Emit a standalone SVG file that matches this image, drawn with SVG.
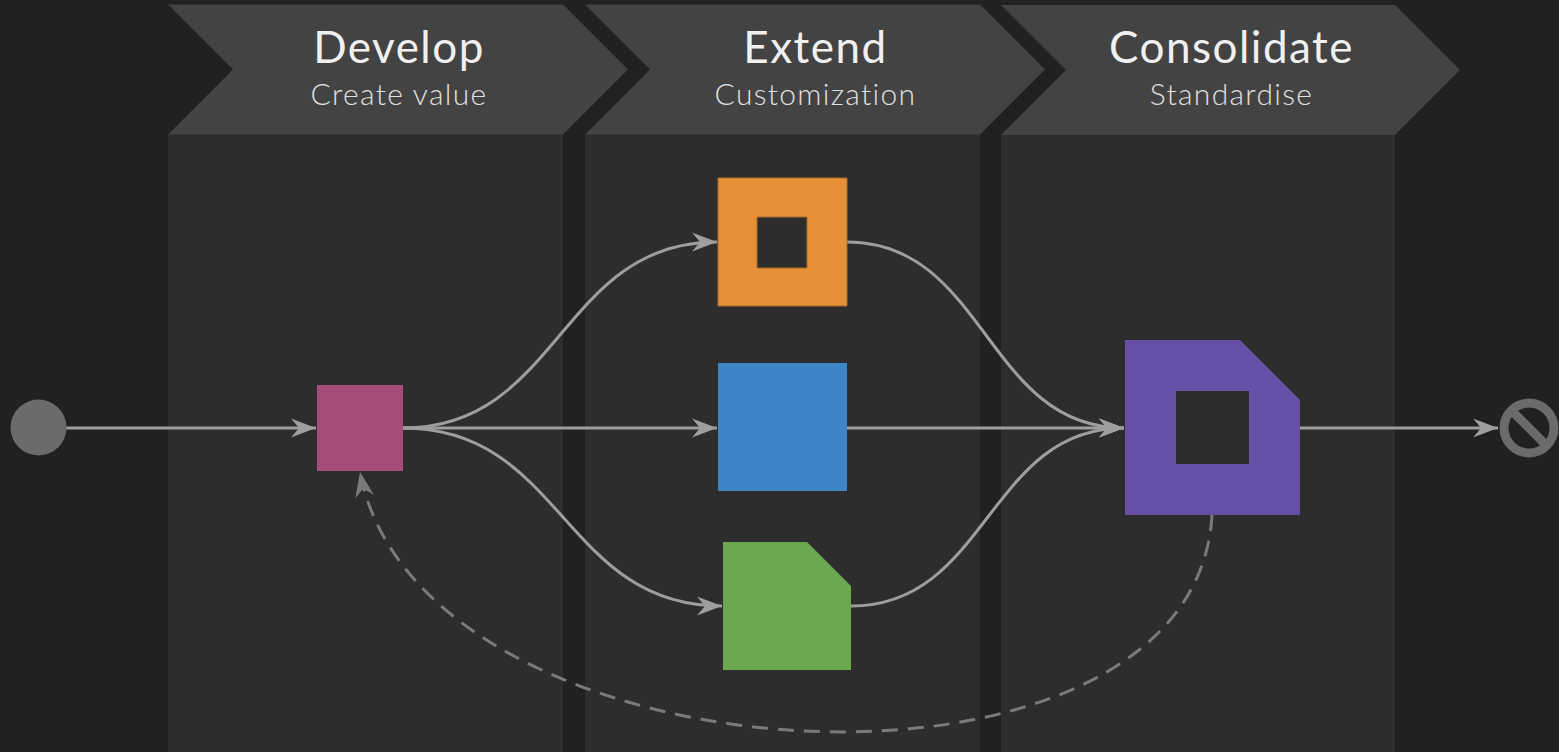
<svg xmlns="http://www.w3.org/2000/svg" width="1559" height="752" viewBox="0 0 1559 752">
<defs>
<style>
.body{fill:#2d2d2d}
.head{fill:#434343}
.title{font-family:Lato,"Open Sans","Liberation Sans",sans-serif;font-size:44px;letter-spacing:1.5px;fill:#f0f0f0;text-anchor:middle}
.sub{font-family:Lato,"Open Sans","Liberation Sans",sans-serif;font-size:30px;font-weight:300;letter-spacing:1.3px;fill:#e0e0e0;text-anchor:middle}
.conn{fill:none;stroke:#9e9e9e;stroke-width:3}
.dash{fill:none;stroke:#7a7a7a;stroke-width:3;stroke-dasharray:16 10}
</style>
<marker id="arr" viewBox="-26 -10 28 20" refX="0" refY="0" markerWidth="28" markerHeight="20" markerUnits="userSpaceOnUse" orient="auto">
<path d="M0,0 L-25,-9.5 L-17,0 L-25,9.5 Z" fill="#9e9e9e"/>
</marker>
<marker id="arrD" viewBox="-26 -10 28 20" refX="0" refY="0" markerWidth="28" markerHeight="20" markerUnits="userSpaceOnUse" orient="auto">
<path d="M0,0 L-25,-9.5 L-17,0 L-25,9.5 Z" fill="#7a7a7a"/>
</marker>
</defs>
<rect width="1559" height="752" fill="#212121"/>

<g id="lane-develop">
<rect class="body" x="168" y="134" width="395" height="618"/>
<polygon class="head" points="168,4.5 563,4.5 628,69.5 563,134.5 168,134.5 233,69.5"/>
<text class="title" x="399" y="63">Develop</text>
<text class="sub" x="399" y="105">Create value</text>
</g>
<g id="lane-extend">
<rect class="body" x="585" y="134" width="395" height="618"/>
<polygon class="head" points="585,4.5 980,4.5 1045,69.5 980,134.5 585,134.5 650,69.5"/>
<text class="title" x="815.5" y="63">Extend</text>
<text class="sub" x="815.5" y="105">Customization</text>
</g>
<g id="lane-consolidate">
<rect class="body" x="1001" y="135" width="394" height="617"/>
<polygon class="head" points="1001,5 1395,5 1460,70 1395,135 1001,135 1066,70"/>
<text class="title" x="1231.5" y="63">Consolidate</text>
<text class="sub" x="1231.5" y="105">Standardise</text>
</g>

<g id="connectors">
<path class="conn" d="M66,428 L316,428" marker-end="url(#arr)"/>
<path class="conn" d="M403,428 C560,428 560,242 717,242" marker-end="url(#arr)"/>
<path class="conn" d="M403,428 L717,428" marker-end="url(#arr)"/>
<path class="conn" d="M403,428 C563,428 563,606 722,606" marker-end="url(#arr)"/>
<path class="conn" d="M847,242 C986,242 986,428 1124,428" marker-end="url(#arr)"/>
<path class="conn" d="M847,428 L1124,428" marker-end="url(#arr)"/>
<path class="conn" d="M851,606 C988,606 988,428 1124,428" marker-end="url(#arr)"/>
<path class="conn" d="M1300,428 L1498,428" marker-end="url(#arr)"/>
<path class="dash" d="M1212,515 C1195,830 420,790 360,472" marker-end="url(#arrD)"/>
</g>

<g id="start">
<circle cx="38.5" cy="427.5" r="28" fill="#6b6b6b"/>
</g>
<g id="develop-node">
<rect x="317" y="385" width="86" height="86" fill="#a64d79"/>
</g>
<g id="extend-orange">
<path d="M718,178 H847 V306 H718 Z M757,217 V268 H807 V217 Z" fill="#e69138" fill-rule="evenodd" stroke="#a86a2a" stroke-width="1"/>
</g>
<g id="extend-blue">
<rect x="718" y="363" width="129" height="128" fill="#3d85c6"/>
</g>
<g id="extend-green">
<path d="M723,542 H807 L851,586 V670 H723 Z" fill="#6aa84f"/>
</g>
<g id="consolidate-node">
<path d="M1125,340 H1240 L1300,400 V515 H1125 Z M1176,391 V464 H1249 V391 Z" fill="#674ea7" fill-rule="evenodd"/>
</g>
<g id="end">
<circle cx="1529" cy="428" r="25" fill="none" stroke="#6b6b6b" stroke-width="9"/>
<line x1="1511" y1="410" x2="1547" y2="446" stroke="#6b6b6b" stroke-width="9"/>
</g>
</svg>
